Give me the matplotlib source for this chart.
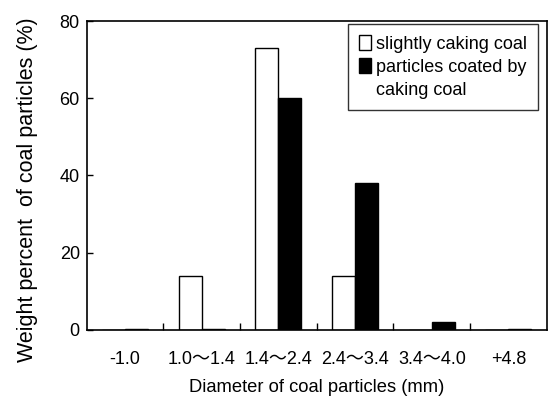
import matplotlib
matplotlib.use("Agg")
import matplotlib.pyplot as plt
import matplotlib.patches as mpatches
import numpy as np

plt.rcParams['font.family'] = ['Liberation Sans', 'Noto Sans CJK JP', 'DejaVu Sans']

categories = ["-1.0", "1.0～1.4", "1.4～2.4", "2.4～3.4", "3.4～4.0", "+4.8"]
slightly_caking = [0.0, 14, 73, 14, 0.0, 0.0]
coated = [0.3, 0.3, 60, 38, 2, 0.3]

fig = plt.figure(figsize=(5.49, 3.97), dpi=100)
ax = fig.add_axes([0.158, 0.169, 0.838, 0.778])

x = np.arange(len(categories))
w = 0.3
b1 = ax.bar(x - w / 2, slightly_caking, w, facecolor='white', edgecolor='black',
            linewidth=1.0)
b2 = ax.bar(x + w / 2, coated, w, facecolor='black', edgecolor='black',
            linewidth=1.0)

ax.set_xlim(-0.5, len(categories) - 0.5)
ax.set_ylim(0, 80)
ax.set_yticks([0, 20, 40, 60, 80])
ax.set_xticks(x)
ax.set_xticklabels(categories)
ax.set_xticks(x[:-1] + 0.5, minor=True)
ax.tick_params(axis='x', which='major', length=0, pad=15, labelsize=13)
ax.tick_params(axis='x', which='minor', direction='in', length=5, width=1)
ax.tick_params(axis='y', direction='in', length=4, width=1, labelsize=13, pad=5)
for s in ax.spines.values():
    s.set_linewidth(1.2)

ax.set_xlabel("Diameter of coal particles (mm)", fontsize=13.2, labelpad=8)
ax.set_ylabel("Weight percent  of coal particles (%)", fontsize=15.5)
ax.yaxis.set_label_coords(-0.105, 0.453)

# legend: second label wraps onto a line with no marker
blank = mpatches.Patch(facecolor='none', edgecolor='none')
handles = [b1, b2, blank]
labels = ['slightly caking coal', 'particles coated by', 'caking coal']
leg = ax.legend(handles, labels, loc='upper right', fontsize=13, frameon=True,
                fancybox=False, edgecolor='black', handlelength=0.7,
                handleheight=0.9, handletextpad=0.25, borderpad=0.6,
                labelspacing=0.3, borderaxespad=0.0,
                bbox_to_anchor=(0.98, 0.99))
leg.get_frame().set_linewidth(1.0)

fig.savefig("out.png", dpi=100)
